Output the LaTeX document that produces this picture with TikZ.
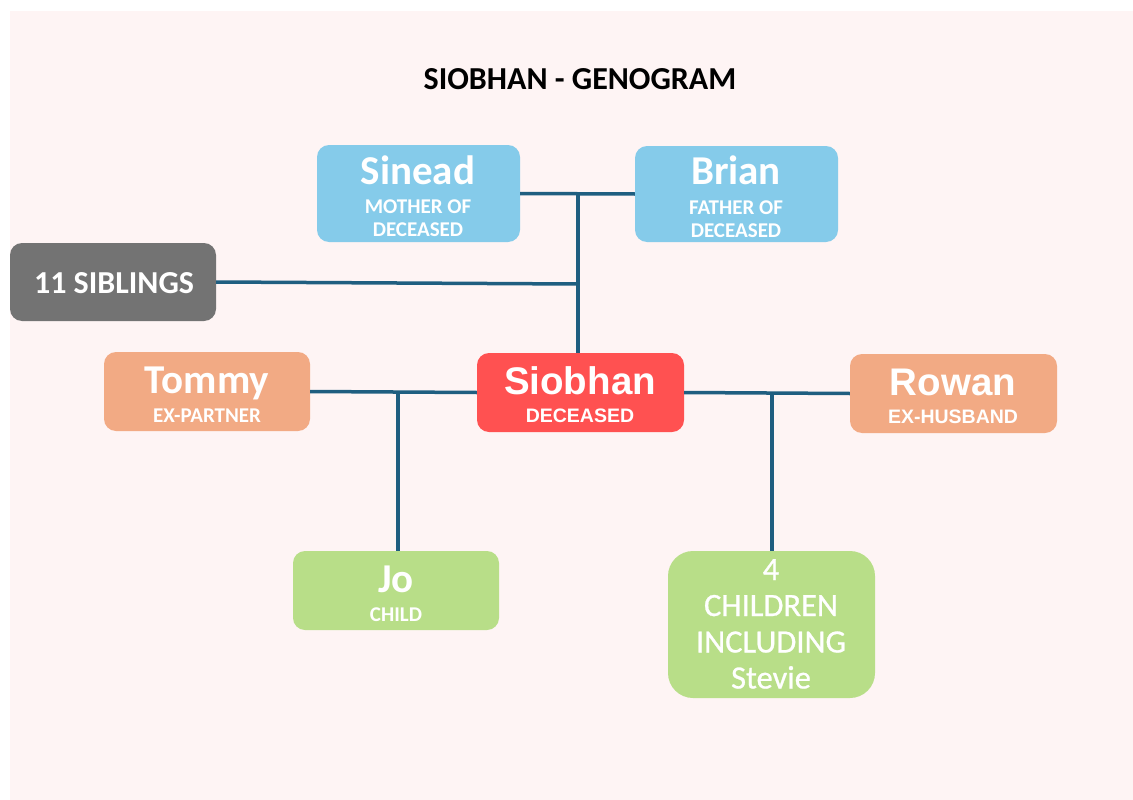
\documentclass[tikz,border=0pt]{standalone}
\usepackage{fontspec}
\setmainfont{Carlito}
\newfontfamily\arialf{Liberation Sans}
\newfontfamily\kidfont[FakeBold=0.8]{Carlito}
\definecolor{bgpink}{HTML}{FEF4F4}
\definecolor{cblue}{HTML}{85CBEA}
\definecolor{cgray}{HTML}{737373}
\definecolor{corange}{HTML}{F2AA84}
\definecolor{cred}{HTML}{FF5151}
\definecolor{cgreen}{HTML}{B8DE88}
\definecolor{cline}{HTML}{1F5E80}
\begin{document}
\begin{tikzpicture}[x=1pt,y=-1pt,
  box/.style={rounded corners=12pt, inner sep=0pt,
    minimum width=206pt, minimum height=79pt},
  conn/.style={draw=cline, line width=3.5pt},
  nmtxt/.style={anchor=base, inner sep=0pt, text=white, font=\bfseries\fontsize{41}{44}\selectfont},
  subtxt/.style={anchor=base, inner sep=0pt, text=white, font=\bfseries\fontsize{21}{24}\selectfont},
  anmtxt/.style={anchor=base, inner sep=0pt, text=white, font=\arialf\bfseries\fontsize{38.5}{44}\selectfont},
  asubtxt/.style={anchor=base, inner sep=0pt, text=white, font=\arialf\bfseries\fontsize{19.5}{24}\selectfont},
  kidtxt/.style={anchor=base, inner sep=0pt, text=white, font=\kidfont\fontsize{32.5}{36}\selectfont},
]
\useasboundingbox (0,0) rectangle (1133,800);
\fill[white] (0,0) rectangle (1133,800);
\fill[bgpink] (10,11) rectangle (1133,800);

\node[anchor=base, inner sep=0pt, font=\bfseries\fontsize{32}{34}\selectfont] (title) at (580,89) {SIOBHAN - GENOGRAM};

% boxes
\node[box, fill=cblue, minimum width=203pt, minimum height=97pt] (sinead) at (418.5,193.5) {};
\node[box, fill=cblue, minimum width=203pt, minimum height=96pt] (brian) at (736.5,194) {};
\node[box, fill=cgray, minimum height=78pt] (siblings) at (113,282) {};
\node[box, fill=corange] (tommy) at (207,391.5) {};
\node[box, fill=cred, minimum width=207pt] (siobhan) at (580.5,392.5) {};
\node[box, fill=corange, minimum width=207pt] (rowan) at (953.5,393.5) {};
\node[box, fill=cgreen] (jo) at (396,590.5) {};
\node[box, fill=cgreen, minimum width=207pt, minimum height=147pt, rounded corners=25pt] (children) at (771.5,624.5) {};

% texts
\node[nmtxt] (sineadN) at (418,184) {Sinead};
\node[subtxt] (sineadS1) at (418,213) {MOTHER OF};
\node[subtxt] (sineadS2) at (418,236) {DECEASED};
\node[nmtxt] (brianN) at (736,184) {Brian};
\node[subtxt] (brianS1) at (736,214) {FATHER OF};
\node[subtxt] (brianS2) at (736,237) {DECEASED};
\node[anchor=base, inner sep=0pt, text=white, font=\bfseries\fontsize{32}{34}\selectfont] (siblingsN) at (114,293) {11 SIBLINGS};
\node[nmtxt] (tommyN) at (207,393) {Tommy};
\node[subtxt] (tommyS) at (207,422.5) {EX-PARTNER};
\node[anmtxt] (siobhanN) at (580,394) {Siobhan};
\node[asubtxt] (siobhanS) at (580,422) {DECEASED};
\node[anmtxt] (rowanN) at (953,395) {Rowan};
\node[asubtxt] (rowanS) at (953,423) {EX-HUSBAND};
\node[nmtxt] (joN) at (396,592) {Jo};
\node[subtxt] (joS) at (396,621.5) {CHILD};
\node[kidtxt] (kid1) at (771,580) {4};
\node[kidtxt] (kid2) at (771,616) {CHILDREN};
\node[kidtxt] (kid3) at (771,652.5) {INCLUDING};
\node[kidtxt] (kid4) at (771,688.5) {Stevie};

% connectors
\coordinate (pj) at (578,194);
\coordinate (sj) at (578,284);
\coordinate (tj) at (398,393);
\coordinate (rj) at (772,394);

\draw[conn] (sinead.east) -- (brian.west);
\draw[conn] (pj) -- (pj |- siobhan.north);
\draw[conn] (siblings.east) -- (sj);
\draw[conn] (tommy.east) -- (siobhan.west);
\draw[conn] (tj) -- (tj |- jo.north);
\draw[conn] (siobhan.east) -- (rowan.west);
\draw[conn] (rj) -- (rj |- children.north);
\end{tikzpicture}
\end{document}
